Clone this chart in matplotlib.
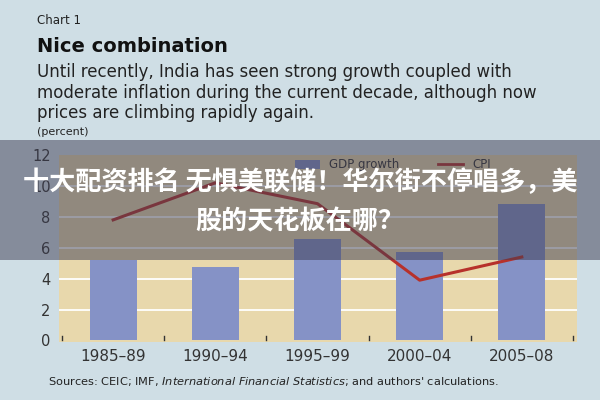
import matplotlib
matplotlib.use("Agg")
import matplotlib.pyplot as plt
from matplotlib.patches import Rectangle, Patch
from matplotlib.lines import Line2D

categories = ["1985–89", "1990–94", "1995–99", "2000–04", "2005–08"]
gdp_growth = [5.2, 4.75, 6.55, 5.75, 8.8]
cpi = [7.8, 10.2, 8.85, 3.9, 5.4]
y_ticks = [0, 2, 4, 6, 8, 10, 12]

BG = "#cfdee5"
PLOT_BG = "#e8d8ac"
BAR = "#8592c6"
LINE = "#b7312b"

plt.rcParams['font.family'] = ['DejaVu Sans']
fig = plt.figure(figsize=(6, 4), dpi=100, facecolor=BG)
ax = fig.add_axes([59/600, 1-342/400, 518/600, 187/400])
ax.set_facecolor(PLOT_BG)

x = list(range(len(categories)))
ax.bar(x, gdp_growth, width=0.46, color=BAR, zorder=2, label="GDP growth")
ax.plot(x, cpi, color=LINE, lw=2.2, zorder=3, label="CPI")

ax.set_xlim(-0.53, 4.54)
ax.set_ylim(-0.1, 12)
ax.set_yticks(y_ticks)
ax.set_yticklabels([str(v) for v in y_ticks], fontsize=10.5, color="#333333")
ax.tick_params(axis='y', length=0, pad=6)
for v in y_ticks[1:-1]:
    ax.axhline(v, color="white", lw=1.3, zorder=1)

ax.set_xticks(x)
ax.set_xticklabels(categories, fontsize=11, color="#333333")
ax.tick_params(axis='x', length=0, pad=5)
for b in [i - 0.5 for i in range(len(categories) + 1)]:
    ax.plot([b, b], [0, 0.3], color="#333333", lw=1, zorder=2)
for s in ax.spines.values():
    s.set_visible(False)

handles = [Patch(facecolor=BAR, edgecolor="none"), Line2D([0], [0], color=LINE, lw=2)]
ax.legend(handles, ["GDP growth", "CPI"], ncol=2, frameon=False, loc="upper center",
          bbox_to_anchor=(0.645, 1.04), fontsize=8.5, handlelength=2.1, handleheight=0.8,
          columnspacing=3.3, labelcolor="#333333")

fig.text(37/600, 1-20/400, "Chart 1", fontsize=8.5, color="#222222", va="center")
fig.text(37/600, 1-46/400, "Nice combination", fontsize=14, fontweight="bold", color="#111111", va="center")
sub = ["Until recently, India has seen strong growth coupled with",
       "moderate inflation during the current decade, although now",
       "prices are climbing rapidly again."]
for i, line in enumerate(sub):
    fig.text(37/600, 1-(72 + 20.5*i)/400, line, fontsize=12.0, color="#222222", va="center")
fig.text(37/600, 1-132/400, "(percent)", fontsize=8, color="#222222", va="center")
fig.text(48/600, 1-382/400, "Sources: CEIC; IMF, $\\it{International\\ Financial\\ Statistics}$; and authors' calculations.",
         fontsize=8.2, color="#222222", va="center")

# overlay band
fig.patches.append(Rectangle((0, 1-260/400), 1, 120/400, transform=fig.transFigure,
                             facecolor="#3c3c52", alpha=0.5, edgecolor="none", zorder=10))
cjk = ['Noto Sans CJK SC', 'DejaVu Sans']
fig.text(0.5, 1-183/400, "十大配资排名 无惧美联储！华尔街不停唱多，美", fontsize=18.8, fontweight="bold",
         color="white", ha="center", va="center", family=cjk, zorder=11)
fig.text(0.5, 1-222/400, "股的天花板在哪？", fontsize=18.8, fontweight="bold",
         color="white", ha="center", va="center", family=cjk, zorder=11)

fig.savefig("out.png", dpi=100, facecolor=BG)
